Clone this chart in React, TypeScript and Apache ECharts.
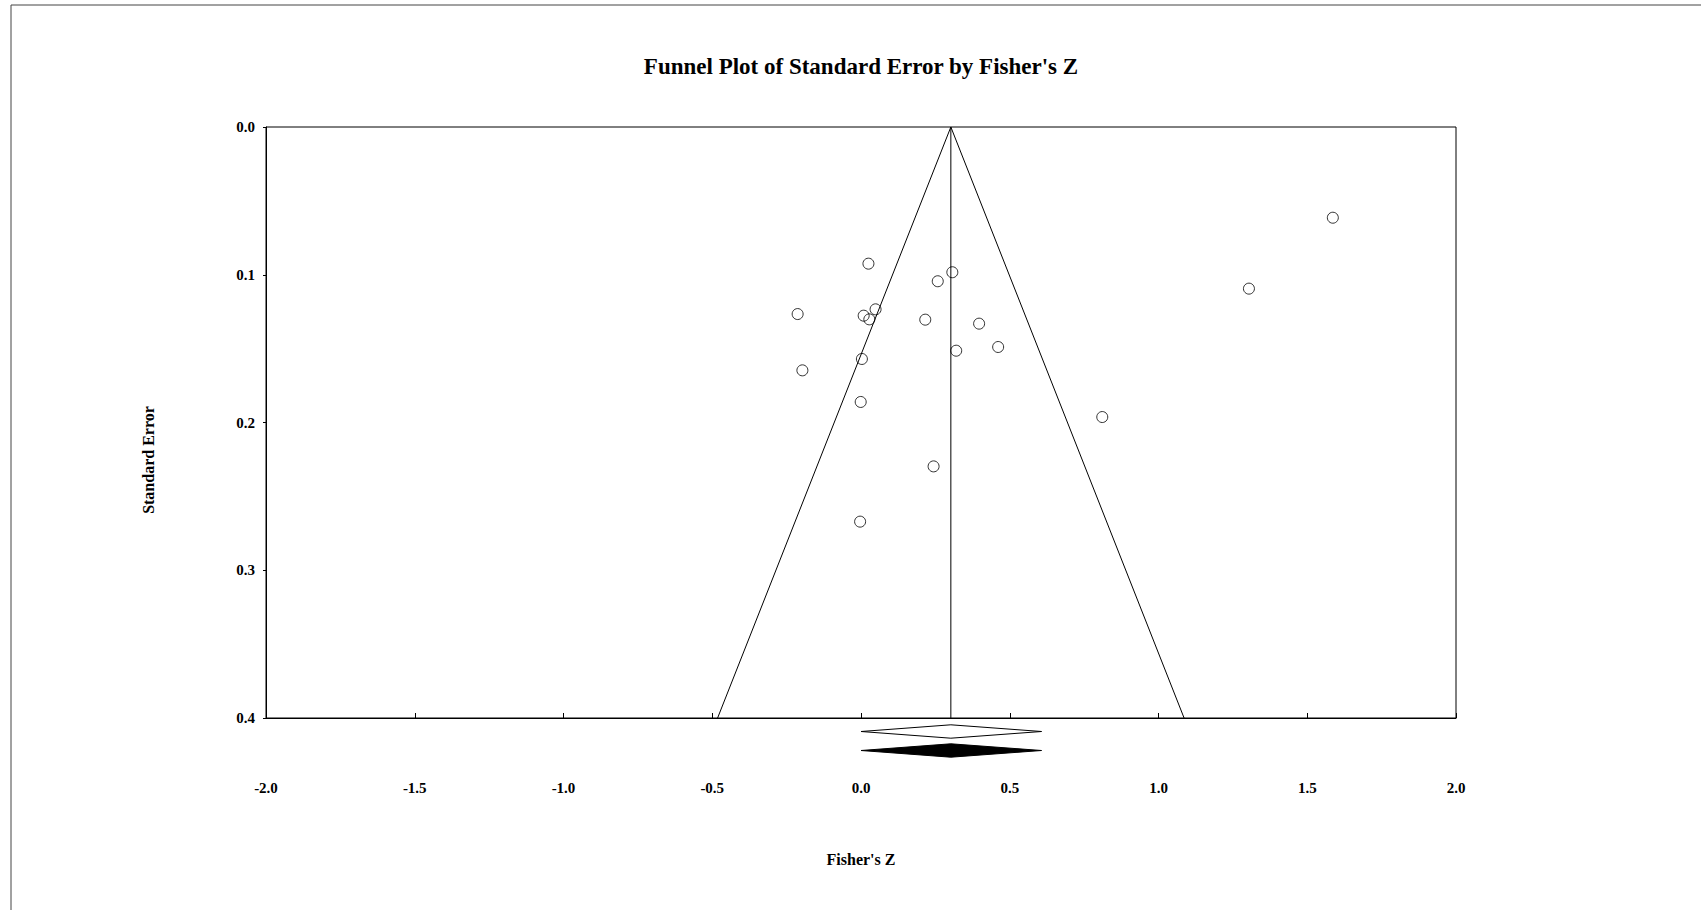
import React, { useEffect, useRef } from "react";
import * as echarts from "echarts";

const titleText = "Funnel Plot of Standard Error by Fisher's Z";
const xAxisName = "Fisher's Z";
const yAxisName = "Standard Error";

// Study points (Fisher's Z, standard error)
const fisherZ = [0.025, 0.307, 0.258, -0.213, 0.049, 0.009, 0.028, 0.216, 0.397, 0.461, 0.32, 0.003, -0.197, -0.001, 0.811, 0.244, -0.003, 1.586, 1.304];
const stdErr = [0.0925, 0.0983, 0.1044, 0.1266, 0.1234, 0.1277, 0.1302, 0.1304, 0.1331, 0.1489, 0.1514, 0.157, 0.1647, 0.1861, 0.1963, 0.2297, 0.2671, 0.0614, 0.1094];

// Funnel (pseudo 95% limits) and pooled estimate
const funnelX = [-0.482, 0.302, 1.086];
const funnelY = [0.4, 0.0, 0.4];
const pooledX = [0.302, 0.302];
const pooledY = [0.0, 0.4];

// Summary diamonds: [lower, estimate, upper]
const observedDiamond = [0.0, 0.302, 0.607];
const adjustedDiamond = [0.0, 0.302, 0.607];

const xMin = -2, xMax = 2, xInterval = 0.5;
const yMin = 0, yMax = 0.4, yInterval = 0.1;

const FONT = "'Liberation Serif', 'Times New Roman', serif";

export default function App() {
  const ref = useRef<HTMLDivElement>(null);
  useEffect(() => {
    if (!ref.current) return;
    const chart = echarts.init(ref.current, null, { renderer: "svg" });
    const points = fisherZ.map((x, i) => [x, stdErr[i]]);
    const funnel = funnelX.map((x, i) => [x, funnelY[i]]);
    const pooled = pooledX.map((x, i) => [x, pooledY[i]]);
    const diamonds = [
      [...observedDiamond, yMax, 0],
      [...adjustedDiamond, yMax, 1],
    ];
    const option: any = {
      animation: false,
      backgroundColor: "#fff",
      textStyle: { fontFamily: FONT },
      graphic: [
        {
          type: "rect",
          shape: { x: 11, y: 5, width: 2000, height: 2000 },
          style: { fill: "none", stroke: "#444", lineWidth: 1 },
          silent: true,
        },
        {
          type: "text",
          x: 861,
          y: 66,
          style: {
            text: titleText,
            font: `bold 23px ${FONT}`,
            fill: "#000",
            align: "center",
            verticalAlign: "middle",
          },
        },
        {
          type: "text",
          x: 148,
          y: 460,
          rotation: Math.PI / 2,
          style: {
            text: yAxisName,
            font: `bold 16px ${FONT}`,
            fill: "#000",
            align: "center",
            verticalAlign: "middle",
          },
        },
      ],
      grid: {
        left: 266,
        top: 127,
        width: 1190,
        height: 591,
        show: true,
        borderColor: "#000",
        borderWidth: 1,
        backgroundColor: "transparent",
      },
      xAxis: {
        type: "value",
        min: xMin,
        max: xMax,
        interval: xInterval,
        position: "bottom",
        name: xAxisName,
        nameLocation: "middle",
        nameGap: 133,
        nameTextStyle: { fontFamily: FONT, fontWeight: "bold", fontSize: 16, color: "#000" },
        axisLine: { show: true, onZero: false, lineStyle: { color: "#000", width: 1 } },
        axisTick: { show: true, inside: true, length: 5, lineStyle: { color: "#000" } },
        axisLabel: {
          margin: 62,
          fontFamily: FONT,
          fontWeight: "bold",
          fontSize: 15,
          color: "#000",
          formatter: (v: number) => v.toFixed(1),
        },
        splitLine: { show: false },
      },
      yAxis: {
        type: "value",
        inverse: true,
        min: yMin,
        max: yMax,
        interval: yInterval,
        position: "left",
        axisLine: { show: true, onZero: false, lineStyle: { color: "#000", width: 1 } },
        axisTick: { show: true, inside: false, length: 3, lineStyle: { color: "#000" } },
        axisLabel: {
          margin: 11,
          fontFamily: FONT,
          fontWeight: "bold",
          fontSize: 15,
          color: "#000",
          formatter: (v: number) => v.toFixed(1),
        },
        splitLine: { show: false },
      },
      series: [
        {
          type: "line",
          data: funnel,
          symbol: "none",
          lineStyle: { color: "#000", width: 1 },
          z: 2,
        },
        {
          type: "line",
          data: pooled,
          symbol: "none",
          lineStyle: { color: "#000", width: 1 },
          z: 2,
        },
        {
          type: "scatter",
          data: points,
          symbol: "circle",
          symbolSize: 11,
          itemStyle: { color: "transparent", borderColor: "#000", borderWidth: 1 },
          z: 3,
        },
        {
          type: "custom",
          clip: false,
          data: diamonds,
          encode: { x: [0, 1, 2], y: 3 },
          renderItem: (params: any, api: any) => {
            const lo = api.coord([api.value(0), api.value(3)]);
            const mid = api.coord([api.value(1), api.value(3)]);
            const hi = api.coord([api.value(2), api.value(3)]);
            const row = api.value(4);
            const cy = lo[1] + (row === 0 ? 13.5 : 32.5);
            const h = 6.7;
            const filled = row === 1;
            return {
              type: "polygon",
              shape: {
                points: [
                  [lo[0], cy],
                  [mid[0], cy - h],
                  [hi[0], cy],
                  [mid[0], cy + h],
                ],
              },
              style: {
                fill: filled ? "#000" : "#fff",
                stroke: "#000",
                lineWidth: 1,
              },
            };
          },
          z: 4,
        },
      ],
    };
    chart.setOption(option);
    return () => chart.dispose();
  }, []);
  return (
    <div
      ref={ref}
      style={{ position: "absolute", left: 0, top: 0, width: 1701, height: 910, background: "#fff" }}
    />
  );
}
